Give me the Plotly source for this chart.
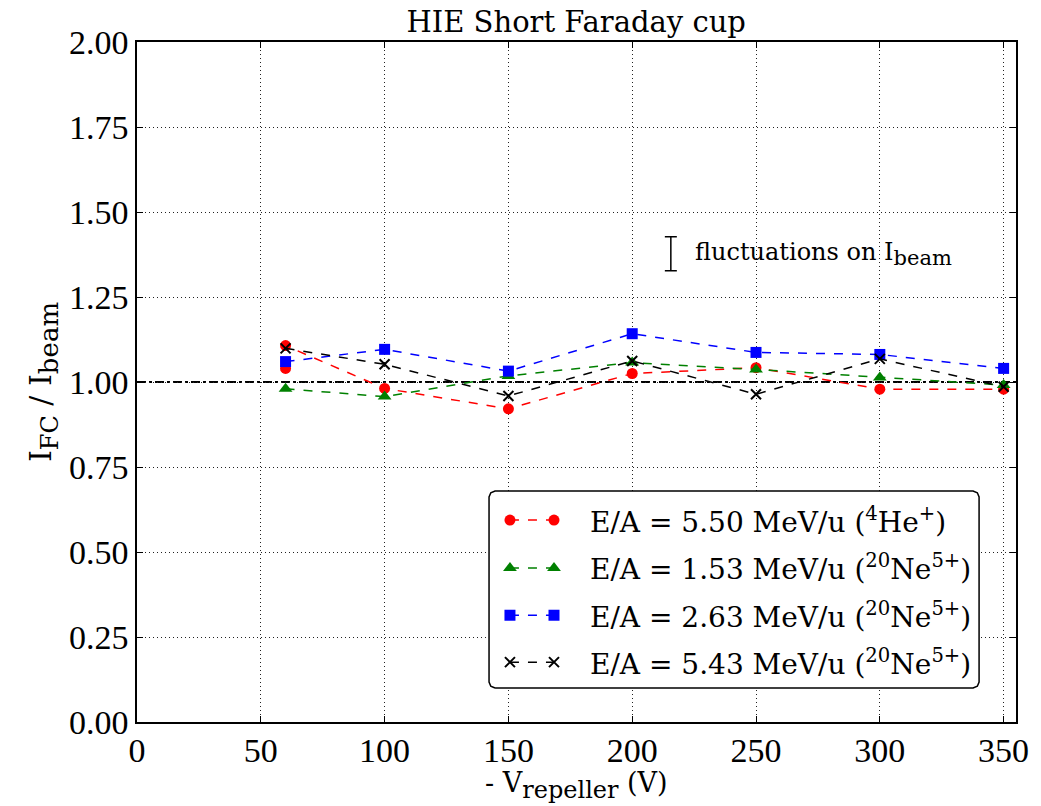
import plotly.graph_objects as go

# Repeller voltage settings (V) and normalised Faraday-cup currents
x_he = [60, 60, 100, 150, 200, 250, 300, 350]
y_he = [1.040, 1.107, 0.981, 0.921, 1.025, 1.042, 0.979, 0.979]

x_ne153 = [60, 100, 150, 200, 250, 300, 350]
y_ne153 = [0.980, 0.957, 1.018, 1.057, 1.037, 1.013, 0.991]

x_ne263 = [60, 100, 150, 200, 250, 300, 350]
y_ne263 = [1.060, 1.096, 1.032, 1.142, 1.087, 1.081, 1.040]

x_ne543 = [60, 100, 150, 200, 250, 300, 350]
y_ne543 = [1.099, 1.052, 0.959, 1.062, 0.964, 1.068, 0.986]

names = [
    "E/A = 5.50 MeV/u (<sup>4</sup>He<sup>+</sup>)",
    "E/A = 1.53 MeV/u (<sup>20</sup>Ne<sup>5+</sup>)",
    "E/A = 2.63 MeV/u (<sup>20</sup>Ne<sup>5+</sup>)",
    "E/A = 5.43 MeV/u (<sup>20</sup>Ne<sup>5+</sup>)",
]

# Typical beam-current fluctuation, shown as a reference bar
fluct_x = [215.6]
fluct_y = [1.377]
fluct_err = [0.05]

x_ticks = [0, 50, 100, 150, 200, 250, 300, 350]
y_ticks = [0.0, 0.25, 0.5, 0.75, 1.0, 1.25, 1.5, 1.75, 2.0]

TICK_FONT = "Liberation Serif"
TEXT_FONT = "DejaVu Serif"

styles = [
    dict(color="red", symbol="circle", size=11, lw=None),
    dict(color="green", symbol="triangle-up", size=12, lw=None),
    dict(color="blue", symbol="square", size=11, lw=None),
    dict(color="black", symbol="x-thin", size=10, lw=2),
]
data = [(x_he, y_he), (x_ne153, y_ne153), (x_ne263, y_ne263), (x_ne543, y_ne543)]


def marker_of(st):
    mk = dict(color=st["color"], symbol=st["symbol"], size=st["size"])
    if st["lw"]:
        mk["line"] = dict(color=st["color"], width=st["lw"])
    return mk


fig = go.Figure()

fig.add_hline(y=1.0, line=dict(color="black", width=2, dash="dashdot"), layer="below")

for (xs, ys), st, nm in zip(data, styles, names):
    fig.add_trace(go.Scatter(
        x=xs, y=ys, mode="lines+markers", name=nm, showlegend=False,
        line=dict(color=st["color"], width=1.5, dash="dash"),
        marker=marker_of(st),
    ))

fig.add_trace(go.Scatter(
    x=fluct_x, y=fluct_y, mode="markers", showlegend=False,
    marker=dict(size=1, color="rgba(0,0,0,0)"),
    error_y=dict(type="data", array=fluct_err, color="black", thickness=1.5, width=6),
))
fig.add_annotation(
    x=fluct_x[0], y=fluct_y[0], xref="x", yref="y", xshift=22, xanchor="left",
    text="fluctuations on I<sub><span style='font-size:21px'>beam</span></sub>", showarrow=False,
    font=dict(family=TEXT_FONT, size=24, color="black"),
)

# Legend panel (overlay axes in 0..1 domain units): framed box, two-marker samples, labels
bx0, bx1, by0, by1 = 0.4005, 0.958, 0.05, 0.3397
rx, ry = 6 / 879, 6 / 680
k = 0.293  # 1 - cos(45 deg), for the rounded corners
box_x = [bx0 + rx, bx1 - rx, bx1 - k * rx, bx1, bx1, bx1 - k * rx, bx1 - rx,
         bx0 + rx, bx0 + k * rx, bx0, bx0, bx0 + k * rx, bx0 + rx]
box_y = [by0, by0, by0 + k * ry, by0 + ry, by1 - ry, by1 - k * ry, by1,
         by1, by1 - k * ry, by1 - ry, by0 + ry, by0 + k * ry, by0]
fig.add_trace(go.Scatter(
    x=box_x, y=box_y, xaxis="x2", yaxis="y2", mode="lines", fill="toself",
    fillcolor="white", line=dict(color="black", width=1.5),
    showlegend=False, hoverinfo="skip",
))

legend_rows = [0.297, 0.2265, 0.157, 0.088]
sample_x = [0.4243, 0.4744]
text_x = 0.513
for row, st, nm in zip(legend_rows, styles, names):
    fig.add_trace(go.Scatter(
        x=sample_x, y=[row, row], xaxis="x2", yaxis="y2",
        mode="lines+markers", showlegend=False, hoverinfo="skip",
        line=dict(color=st["color"], width=1.5, dash="dash"),
        marker=marker_of(st),
    ))
    fig.add_annotation(
        x=text_x, y=row, xref="x2", yref="y2", xanchor="left", yanchor="middle",
        text=nm, showarrow=False,
        font=dict(family=TEXT_FONT, size=28, color="black"),
    )

# x-axis title anchored to the bottom edge of the page, below the tick labels
fig.add_annotation(
    x=0.5, y=-84 / 680, xref="paper", yref="paper", xanchor="center", yanchor="bottom", yshift=0,
    text="- V<sub><span style='font-size:24px'>repeller</span></sub> (V)", showarrow=False,
    font=dict(family=TEXT_FONT, size=27, color="black"),
)

axis_common = dict(
    showline=True, linecolor="black", linewidth=1.5, mirror="allticks",
    ticks="inside", ticklen=6, tickcolor="black",
    showgrid=True, gridcolor="#222222", gridwidth=1, griddash="1px,3px",
    zeroline=False, automargin=False,
    tickfont=dict(family=TICK_FONT, size=34, color="black"),
)

fig.update_xaxes(
    range=[0, 355], tickvals=x_ticks, ticktext=[str(v) for v in x_ticks],
    ticklabelstandoff=-3,
    **axis_common,
)
fig.update_yaxes(
    range=[0, 2.0], tickvals=y_ticks, ticktext=[f"{v:.2f}" for v in y_ticks],
    title=dict(text="I<sub><span style='font-size:24px'>FC</span></sub> / I<sub><span style='font-size:26px'>beam</span></sub>",
               font=dict(family=TEXT_FONT, size=30, color="black"), standoff=8),
    **axis_common,
)

fig.update_layout(
    xaxis2=dict(domain=[0, 1], range=[0, 1], overlaying="x", visible=False, fixedrange=True),
    yaxis2=dict(domain=[0, 1], range=[0, 1], overlaying="y", visible=False, fixedrange=True),
    width=1041, height=806,
    margin=dict(l=137, r=25, t=42, b=84),
    paper_bgcolor="white", plot_bgcolor="white",
    title=dict(text="HIE Short Faraday cup", x=0.5535, xanchor="center", y=0.973, yanchor="middle",
               font=dict(family=TEXT_FONT, size=29, color="black")),
    showlegend=False,
)

fig.write_html("out.html")
